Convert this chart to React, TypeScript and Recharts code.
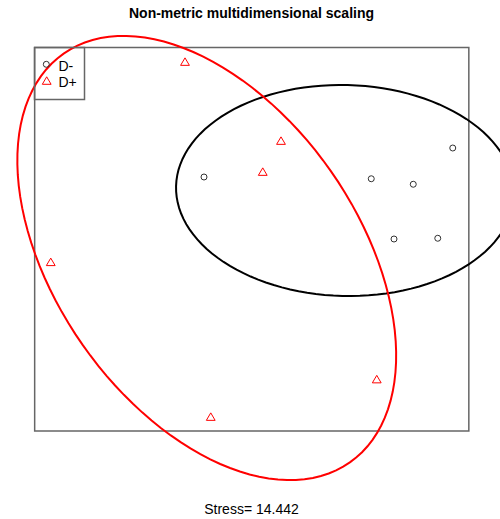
import React from "react";
import { ScatterChart, Scatter, XAxis, YAxis, ReferenceArea } from "recharts";

// NMDS site scores per group
const groups = ["D-", "D+"];
const dMinusX = [-0.184, 0.485, 0.653, 0.811, 0.576, 0.751];
const dMinusY = [0.268, 0.261, 0.239, 0.384, 0.02, 0.023];
const dPlusX = [-0.26, 0.124, 0.051, -0.797, 0.507, -0.157];
const dPlusY = [0.729, 0.413, 0.289, -0.072, -0.541, -0.691];

// group ellipses: centre, semi-axes, rotation (degrees)
const ellipseCx = [0.38, -0.173];
const ellipseCy = [0.214, -0.056];
const ellipseA = [0.676, 0.998];
const ellipseB = [0.422, 0.606];
const ellipseAngle = [-1.5, -55];
const ellipseColors = ["#000000", "#ff0000"];

const stress = 14.442;

const W = 500;
const H = 519;
const FONT = "Arial, 'Liberation Sans', Helvetica, sans-serif";

const toPoints = (xs: number[], ys: number[]) => xs.map((x, i) => ({ x, y: ys[i] }));

const ellipsePath = (g: number) => {
  const pts = [];
  const t = (ellipseAngle[g] * Math.PI) / 180;
  for (let k = 0; k <= 120; k++) {
    const a = (2 * Math.PI * k) / 120;
    const ex = ellipseA[g] * Math.cos(a);
    const ey = ellipseB[g] * Math.sin(a);
    pts.push({
      x: ellipseCx[g] + ex * Math.cos(t) - ey * Math.sin(t),
      y: ellipseCy[g] + ex * Math.sin(t) + ey * Math.cos(t),
    });
  }
  return pts;
};

const dMinus = toPoints(dMinusX, dMinusY);
const dPlus = toPoints(dPlusX, dPlusY);
const allX = [...dMinusX, ...dPlusX];
const allY = [...dMinusY, ...dPlusY];

// plot frame follows R's 4% axis expansion around the points
const pad = (v: number[]) => {
  const lo = Math.min(...v);
  const hi = Math.max(...v);
  const d = (hi - lo) * 0.04;
  return [lo - d, hi + d];
};
const [fx1, fx2] = pad(allX);
const [fy1, fy2] = pad(allY);

const Circle = (props: any) => (
  <circle cx={props.cx} cy={props.cy} r={3} fill="none" stroke="#333" strokeWidth={1} />
);

const Triangle = (props: any) => {
  const { cx, cy } = props;
  return (
    <polygon
      points={`${cx},${cy - 3.9} ${cx - 4.4},${cy + 3.6} ${cx + 4.4},${cy + 3.6}`}
      fill="none"
      stroke="#ff0000"
      strokeWidth={1}
    />
  );
};

const NoDot = () => <g />;

export default function App() {
  return (
    <div style={{ position: "absolute", left: 0, top: 0, width: W, height: H, background: "#fff", fontFamily: FONT }}>
      <ScatterChart width={W} height={H} margin={{ top: 0, right: 0, bottom: 0, left: 0 }}>
        <XAxis type="number" dataKey="x" domain={[-1, 1]} allowDataOverflow hide />
        <YAxis type="number" dataKey="y" domain={[-1.1, 0.976]} allowDataOverflow hide />
        <ReferenceArea x1={fx1} x2={fx2} y1={fy1} y2={fy2} fill="none" fillOpacity={0} stroke="#666" strokeWidth={1.5} strokeOpacity={1} ifOverflow="visible" />
        <Scatter data={dMinus} shape={Circle} isAnimationActive={false} />
        <Scatter data={dPlus} shape={Triangle} isAnimationActive={false} />
        {[0, 1].map((g) => (
          <Scatter
            key={groups[g]}
            data={ellipsePath(g)}
            shape={NoDot}
            line={{ stroke: ellipseColors[g], strokeWidth: 2 }}
            isAnimationActive={false}
          />
        ))}
      </ScatterChart>

      <div style={{ position: "absolute", left: 0, width: 503, top: 5, textAlign: "center", fontWeight: "bold", fontSize: 14 }}>
        Non-metric multidimensional scaling
      </div>

      {/* legend sits under the ellipses, no fill */}
      <svg width={W} height={H} style={{ position: "absolute", left: 0, top: 0, pointerEvents: "none" }}>
        <rect x={34.5} y={47.5} width={50} height={52} fill="none" stroke="#666" strokeWidth={1.5} />
        <circle cx={46.3} cy={64.3} r={3} fill="none" stroke="#333" strokeWidth={1} />
        <polygon points="46.7,76.8 42.3,84.3 51.1,84.3" fill="none" stroke="#ff0000" strokeWidth={1} />
        <text x={58.5} y={71} fontSize={14} fontFamily={FONT} fill="#000">{groups[0]}</text>
        <text x={58.5} y={87} fontSize={14} fontFamily={FONT} fill="#000">{groups[1]}</text>
      </svg>

      <div style={{ position: "absolute", left: 0, width: 503, top: 501, textAlign: "center", fontSize: 14 }}>
        {`Stress= ${stress}`}
      </div>
    </div>
  );
}
